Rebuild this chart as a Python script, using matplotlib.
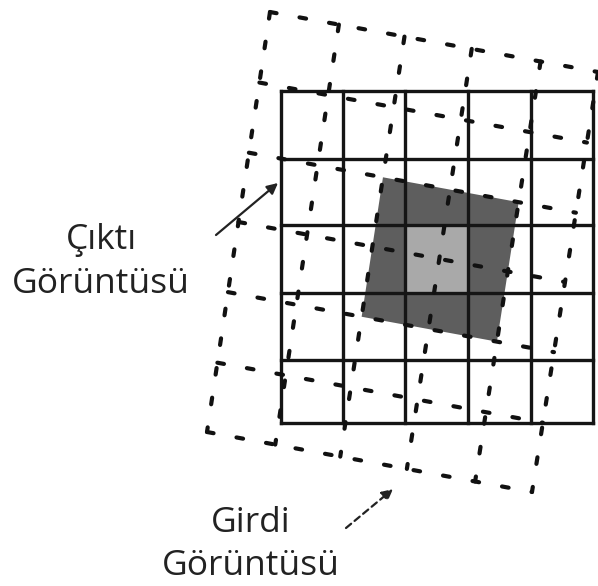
import numpy as np
import matplotlib.pyplot as plt
from matplotlib.patches import Polygon, Rectangle

# solid (output) grid, edges (pixels)
solid_x = [281, 343, 405, 468, 531, 593]
solid_y = [91, 159, 225, 293, 360, 423]
light_cell = (2, 2)  # column, row of the light gray cell

# dashed (input) grid: corners TL, TR, BR, BL and line fractions
dash_corners = np.array([[270, 12], [598, 72], [532, 492], [207, 432]], float)
dash_cols = [0, 0.21, 0.41, 0.615, 0.825, 1.0]
dash_rows = [0, 0.168, 0.335, 0.5, 0.667, 0.835, 1.0]
dark_cols = (2, 4)
dark_rows = (2, 4)

# labels: lines, centre x, baselines
out_lines = ["Çıktı", "Görüntüsü"]
out_x = 101
out_base = [249, 293]
in_lines = ["Girdi", "Görüntüsü"]
in_x = 251
in_base = [532, 575]


def warp(a, b):
    tl, tr, br, bl = dash_corners
    return (1 - a) * (1 - b) * tl + a * (1 - b) * tr + a * b * br + (1 - a) * b * bl


fig = plt.figure(figsize=(5.98, 5.86), dpi=100)
ax = fig.add_axes([0, 0, 1, 1])
ax.set_xlim(0, 598)
ax.set_ylim(586, 0)
ax.axis('off')

# dark rotated square (2x2 dashed cells)
c0, c1 = dash_cols[dark_cols[0]], dash_cols[dark_cols[1]]
r0, r1 = dash_rows[dark_rows[0]], dash_rows[dark_rows[1]]
dark = [warp(c0, r0), warp(c1, r0), warp(c1, r1), warp(c0, r1)]
ax.add_patch(Polygon(dark, closed=True, facecolor='#5e5e5e', edgecolor='none', zorder=1))

# light gray cell of the solid grid
ci, ri = light_cell
ax.add_patch(Rectangle((solid_x[ci], solid_y[ri]), solid_x[ci + 1] - solid_x[ci],
                       solid_y[ri + 1] - solid_y[ri], facecolor='#a9a9a9',
                       edgecolor='none', zorder=2))

# solid grid
for x in solid_x:
    ax.plot([x, x], [solid_y[0], solid_y[-1]], color='#151515', lw=2.4,
            solid_capstyle='projecting', zorder=3)
for y in solid_y:
    ax.plot([solid_x[0], solid_x[-1]], [y, y], color='#151515', lw=2.4,
            solid_capstyle='projecting', zorder=3)

# dashed grid
dash_kw = dict(color='#111111', lw=3.0, dashes=(1.6, 5.6),
               dash_capstyle='round', zorder=4)
for a in dash_cols:
    p, q = warp(a, 0), warp(a, 1)
    ax.plot([p[0], q[0]], [p[1], q[1]], **dash_kw)
for b in dash_rows:
    p, q = warp(0, b), warp(1, b)
    ax.plot([p[0], q[0]], [p[1], q[1]], **dash_kw)

# labels and arrows
font = 'Open Sans'
for s, yb in zip(out_lines, out_base):
    ax.text(out_x, yb, s, ha='center', va='baseline', fontsize=25.5,
            family=font, color='#222222')
for s, yb in zip(in_lines, in_base):
    ax.text(in_x, yb, s, ha='center', va='baseline', fontsize=25.5,
            family=font, color='#222222')

ax.annotate('', xy=(278, 183), xytext=(216, 235),
            arrowprops=dict(arrowstyle='-|>', color='#222222', lw=1.6,
                            mutation_scale=16, shrinkA=0, shrinkB=0))
ax.annotate('', xy=(393, 489), xytext=(346, 528),
            arrowprops=dict(arrowstyle='-|>', color='#222222', lw=1.6,
                            linestyle=(0, (3, 2)), mutation_scale=16,
                            shrinkA=0, shrinkB=0))

fig.savefig('out.png', dpi=100)
